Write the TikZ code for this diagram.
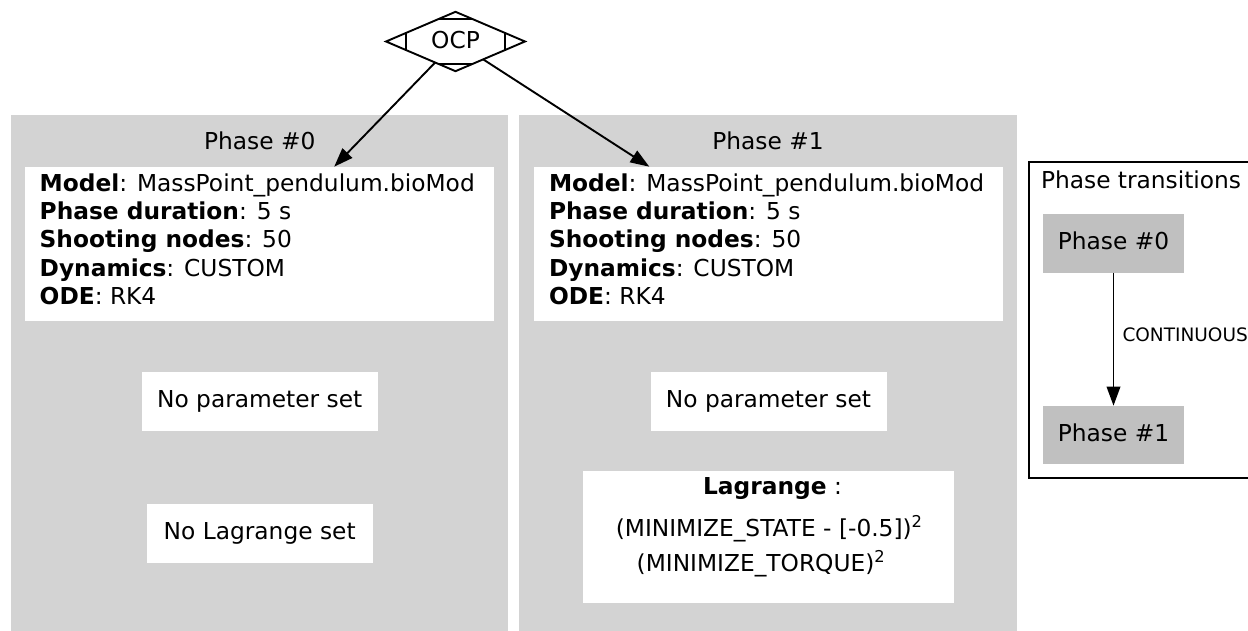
\documentclass[tikz,border=0pt]{standalone}
\usepackage{fontspec}
\setmainfont{DejaVu Sans}
\usetikzlibrary{shapes.geometric,arrows.meta,calc}
\definecolor{clusterbg}{HTML}{D3D3D3}
\definecolor{phasenode}{HTML}{C0C0C0}

\begin{document}
\begin{tikzpicture}[x=1pt,y=-1pt,
  every node/.style={inner sep=0pt, outer sep=0pt},
  mainfont/.style={font=\fontsize{23.3}{28.1}\selectfont},
  smallfont/.style={font=\fontsize{18.5}{22}\selectfont},
  cluster/.style={fill=clusterbg, draw=none, anchor=north west},
  whitebox/.style={fill=white, draw=none, anchor=north west, mainfont,
                   text height=17pt, text depth=5pt},
  phasebox/.style={fill=phasenode, draw=none, anchor=north west, mainfont,
                   text height=17pt, text depth=4pt,
                   minimum width=141pt, minimum height=58.6pt},
  edge/.style={line width=1.9pt, -{Triangle[length=19pt,width=13.5pt]}},
]
\useasboundingbox (0,0) rectangle (1248,631);
\clip (0,0) rectangle (1248,631);
\fill[white] (0,0) rectangle (1248,631);

% root node of the problem
\node[diamond, draw, line width=1.9pt, minimum width=139pt, minimum height=59.4pt,
      shape aspect=2.34, mainfont, text height=17pt, text depth=3.4pt] (ocp) at (455.5,41.5) {OCP};
\draw[line width=1.9pt]
  ($(ocp.north)!0.246!(ocp.west)$) -- ($(ocp.north)!0.246!(ocp.east)$)
  ($(ocp.south)!0.246!(ocp.west)$) -- ($(ocp.south)!0.246!(ocp.east)$)
  ($(ocp.west)!0.283!(ocp.north)$) -- ($(ocp.west)!0.283!(ocp.south)$)
  ($(ocp.east)!0.283!(ocp.north)$) -- ($(ocp.east)!0.283!(ocp.south)$);

% phase clusters
\node[cluster, minimum width=497.3pt, minimum height=530pt] (phase0) at (11,115) {};
\node[cluster, minimum width=497.4pt, minimum height=530pt] (phase1) at (519.3,115) {};
\node[mainfont, anchor=base] (title0) at (259.7,150) {Phase \#0};
\node[mainfont, anchor=base] (title1) at (768,150) {Phase \#1};

% phase 0 content
\node[whitebox, minimum width=469.3pt, minimum height=154pt] (model0) at (25,166.7) {};
\node[mainfont, anchor=north west, align=left] (model0txt) at (39.7,174.0)
  {\textbf{Model}: MassPoint\_pendulum.bioMod\\
   \textbf{Phase duration}: 5 s\\
   \textbf{Shooting nodes}: 50\\
   \textbf{Dynamics}: CUSTOM\\
   \textbf{ODE}: RK4};
\node[whitebox, minimum width=236pt, minimum height=58.7pt] (param0) at (141.7,372.3) {No parameter set};
\node[whitebox, minimum width=226pt, minimum height=58.7pt] (lag0) at (146.7,504) {No Lagrange set};

% phase 1 content
\node[whitebox, minimum width=468.4pt, minimum height=154pt] (model1) at (534.3,166.7) {};
\node[mainfont, anchor=north west, align=left] (model1txt) at (549,174.0)
  {\textbf{Model}: MassPoint\_pendulum.bioMod\\
   \textbf{Phase duration}: 5 s\\
   \textbf{Shooting nodes}: 50\\
   \textbf{Dynamics}: CUSTOM\\
   \textbf{ODE}: RK4};
\node[whitebox, minimum width=236pt, minimum height=58.7pt] (param1) at (650.5,372.3) {No parameter set};
\node[whitebox, minimum width=371.6pt, minimum height=131.7pt] (lag1) at (582.7,471) {};
\node[mainfont, anchor=north, align=center] (lag1txt) at (769.2,478)
  {\hspace*{6.6pt}\textbf{Lagrange} :\\[13.6pt]
   (MINIMIZE\_STATE - [-0.5])\textsuperscript{2}\\[6.9pt]
   (MINIMIZE\_TORQUE)\textsuperscript{2}\hspace*{16.4pt}};

% links from the root
\draw[edge] (ocp) -- (model0);
\draw[edge] (ocp) -- (model1);

% phase transitions
\node[draw, line width=1.9pt, anchor=north west, minimum width=260pt, minimum height=316pt]
  (transitions) at (1029,162.3) {};
\node[mainfont, anchor=base west] (transtitle) at (1041,188.3) {Phase transitions};
\node[phasebox] (t0) at (1043,214) {Phase \#0};
\node[phasebox] (t1) at (1043,405.7) {Phase \#1};
\draw[edge] (t0) -- node[midway, smallfont, anchor=base west, xshift=9pt, yshift=-2.3pt] (cont) {CONTINUOUS} (t1);
\end{tikzpicture}
\end{document}
